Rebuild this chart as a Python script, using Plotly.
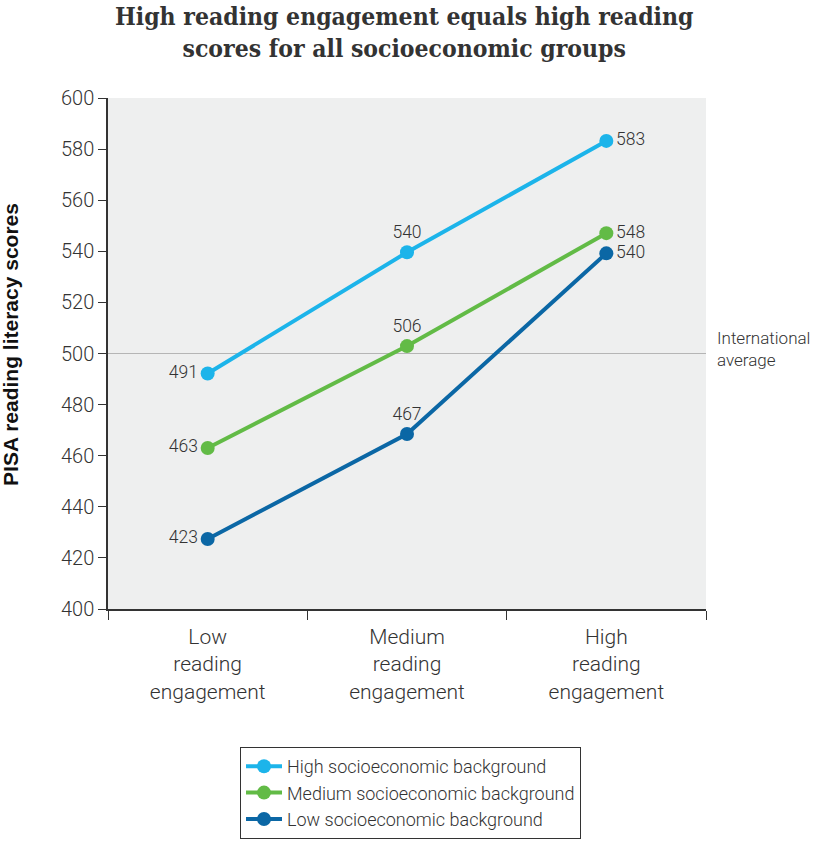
import plotly.graph_objects as go

categories = ["Low<br>reading<br>engagement", "Medium<br>reading<br>engagement", "High<br>reading<br>engagement"]
series_names = ["High socioeconomic background", "Medium socioeconomic background", "Low socioeconomic background"]
high_values = [492.2, 539.6, 583.2]
medium_values = [463.0, 502.9, 547.1]
low_values = [427.4, 468.5, 539.2]
high_labels = ["491", "540", "583"]
medium_labels = ["463", "506", "548"]
low_labels = ["423", "467", "540"]
colors = ["#1cb4ea", "#62bb46", "#0b67a5"]
intl_average = 500
y_ticks = list(range(400, 601, 20))

label_pos = ["middle left", "top center", "middle right"]

fig = go.Figure()
for name, vals, labs, col in zip(series_names, [high_values, medium_values, low_values],
                                 [high_labels, medium_labels, low_labels], colors):
    fig.add_trace(go.Scatter(
        x=categories, y=vals, name=name, mode="lines+markers+text",
        text=labs, textposition=label_pos,
        textfont=dict(family="Roboto", size=17.5, color="#333333", weight=300),
        line=dict(color=col, width=4),
        marker=dict(color=col, size=14),
        cliponaxis=False,
    ))

fig.add_shape(type="line", xref="paper", x0=0, x1=1, yref="y", y0=intl_average, y1=intl_average,
              line=dict(color="#b5b5b5", width=1.2), layer="below")

fig.add_annotation(xref="paper", x=1.015, yref="y", y=intl_average, text="International<br>average",
                   xanchor="left", yanchor="middle", align="left", showarrow=False, yshift=5,
                   font=dict(family="Roboto", size=17, color="#333333", weight=300))

fig.add_annotation(xref="paper", x=0.495, yref="paper", y=1.128,
                   text="High reading engagement equals high reading<br>scores for all socioeconomic groups",
                   showarrow=False, xanchor="center", yanchor="middle", align="center",
                   font=dict(family="DejaVu Serif Condensed", size=24.5, color="#333333", weight="bold"))

fig.add_annotation(xref="paper", x=-0.162, yref="paper", y=0.517, text="<b>PISA reading literacy scores</b>",
                   textangle=-90, showarrow=False, xanchor="center", yanchor="middle",
                   font=dict(family="Liberation Sans", size=21, color="#111111"))

fig.update_layout(
    width=820, height=841,
    margin=dict(l=108, r=114, t=98, b=232, autoexpand=False),
    paper_bgcolor="white", plot_bgcolor="#eeefef",
    showlegend=True,
    legend=dict(xref="container", yref="container", x=240 / 820, y=1 - 747 / 841,
                xanchor="left", yanchor="top",
                bgcolor="white", bordercolor="#333333", borderwidth=1,
                font=dict(family="Roboto", size=18, color="#333333", weight=300),
                tracegroupgap=0, itemwidth=36),
    xaxis=dict(type="category", tickson="boundaries", ticks="outside", ticklen=9, tickcolor="#333333",
               showline=True, linecolor="#333333", linewidth=1.5, showgrid=False, zeroline=False,
               tickfont=dict(family="Roboto", size=21, color="#333333", weight=300),
               ticklabelstandoff=8, range=[-0.5, 2.5], automargin=False),
    yaxis=dict(range=[400, 600], tickvals=y_ticks, ticks="outside", ticklen=8, tickcolor="#333333",
               showline=True, linecolor="#333333", linewidth=1.5, showgrid=False, zeroline=False,
               tickfont=dict(family="Roboto", size=20, color="#333333", weight=300), automargin=False),
)

fig.write_html("out.html")
